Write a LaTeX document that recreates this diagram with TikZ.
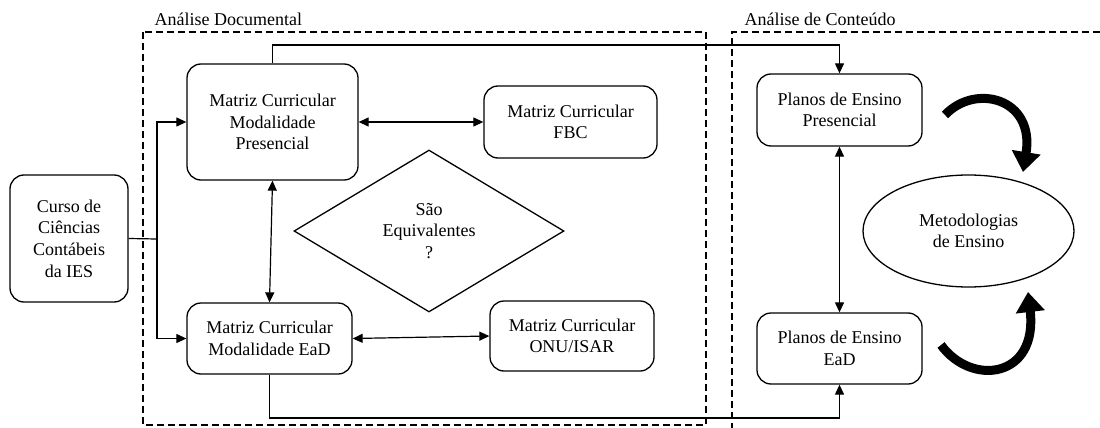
\documentclass[tikz,border=0pt]{standalone}
\usepackage{fontspec}
\setmainfont{Liberation Serif}
\usetikzlibrary{arrows.meta,shapes.geometric}

\tikzset{
  caixa/.style={draw, line width=1.3pt, rounded corners=14pt, align=center, inner sep=2pt},
  seta/.style={line width=1.2pt, -{Triangle[length=10pt,width=9pt]}},
  setadupla/.style={line width=1.2pt, {Triangle[length=10pt,width=9pt]}-{Triangle[length=10pt,width=9pt]}},
  area/.style={line width=2.6pt, dash pattern=on 7pt off 4pt},
  curva/.style={line width=9pt, -{Triangle[length=20pt,width=28pt]}}
}

\begin{document}
\begin{tikzpicture}[x=1pt,y=-1pt,font=\fontsize{18}{21.6}\selectfont]
\useasboundingbox (0,0) rectangle (1100,428);

% areas da analise
\draw[area] (143,32) rectangle (706,425);
\draw[area] (1100,32) -| (732,428);
\node[anchor=base west] (tdoc) at (151,26) {Análise Documental};
\node[anchor=base west] (tcont) at (741,26) {Análise de Conteúdo};

% caixas
\node[caixa, minimum width=118pt, minimum height=127pt] (curso) at (69,238.5) {Curso de\\Ciências\\Contábeis\\da IES};
\node[caixa, minimum width=171pt, minimum height=116pt] (mp) at (272.5,122) {Matriz Curricular\\Modalidade\\Presencial};
\node[caixa, minimum width=173pt, minimum height=72pt] (fbc) at (570.5,122) {Matriz Curricular\\FBC};
\node[caixa, minimum width=165pt, minimum height=71pt] (ead) at (269.5,338.5) {Matriz Curricular\\Modalidade EaD};
\node[caixa, minimum width=164pt, minimum height=70pt] (onu) at (572,336) {Matriz Curricular\\ONU/ISAR};
\node[draw, line width=1.3pt, diamond, inner sep=0pt, minimum width=270pt, minimum height=162pt, align=center] (eq) at (429,231) {São\\Equivalentes\\?};
\node[caixa, minimum width=165pt, minimum height=72pt] (ppres) at (839.5,110) {Planos de Ensino\\Presencial};
\node[caixa, minimum width=165pt, minimum height=71pt] (pead) at (839.5,348.5) {Planos de Ensino\\EaD};
\node[draw, line width=1.3pt, ellipse, minimum width=211pt, minimum height=112pt, align=center] (metod) at (968.5,231) {Metodologias\\de Ensino};

% ligacoes
\coordinate (jn) at (157,239);
\coordinate (toprail) at (0,45);
\coordinate (botrail) at (0,418);
\draw[line width=1.2pt] (curso.east) -- (jn);
\draw[seta] (jn) |- (mp.west);
\draw[seta] (jn) |- (ead.west);
\draw[setadupla] (mp) -- (fbc);
\draw[setadupla] (mp.south) -- (ead.north);
\draw[setadupla] (ead.east) -- (onu.west);
\draw[seta] (mp.north) -- (mp.north |- toprail) -| (ppres.north);
\draw[seta] (ead.south) -- (ead.south |- botrail) -| (pead.south);
\draw[setadupla] (ppres) -- (pead);

% setas curvas
\coordinate (c1) at (945,115);
\coordinate (c2) at (1023,172);
\coordinate (c3) at (941,345);
\coordinate (c4) at (1028,292);
\draw[curva] (c1) .. controls (975,83) and (1035,98) .. (c2);
\draw[curva] (c3) .. controls (972,387) and (1038,378) .. (c4);

\end{tikzpicture}
\end{document}
